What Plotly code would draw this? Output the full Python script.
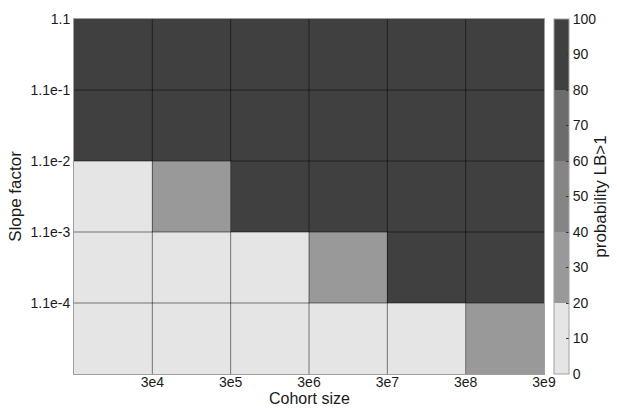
import plotly.graph_objects as go

# Cohort sizes along the columns, slope factors at the row boundaries
cohort_labels = ["3e4", "3e5", "3e6", "3e7", "3e8", "3e9"]
slope_labels = ["1.1", "1.1e-1", "1.1e-2", "1.1e-3", "1.1e-4"]  # top to bottom

# Probability (%) that the lower bound exceeds 1, rows listed top to bottom
prob_row1 = [100, 100, 100, 100, 100, 100]
prob_row2 = [100, 100, 100, 100, 100, 100]
prob_row3 = [0, 30, 100, 100, 100, 100]
prob_row4 = [0, 0, 0, 30, 100, 100]
prob_row5 = [0, 0, 0, 0, 0, 30]

rows_top_down = [prob_row1, prob_row2, prob_row3, prob_row4, prob_row5]
z = rows_top_down[::-1]  # heatmap row 0 sits at the bottom

n_cols = len(cohort_labels)
n_rows = len(rows_top_down)

# Five discrete grey bands over 0..100
band_colors = ["#e5e5e5", "#999999", "#858585", "#6c6c6c", "#404040"]
colorscale = []
for i, c in enumerate(band_colors):
    colorscale.append([i / len(band_colors), c])
    colorscale.append([(i + 1) / len(band_colors), c])

font_family = "Liberation Sans, Arial, sans-serif"
text_color = "#1a1a1a"

fig = go.Figure(
    go.Heatmap(
        z=z,
        x=list(range(n_cols)),
        y=list(range(n_rows)),
        zmin=0,
        zmax=100,
        colorscale=colorscale,
        hoverinfo="skip",
        colorbar=dict(
            x=1.0213,
            xanchor="left",
            xpad=0,
            y=0.5,
            yanchor="middle",
            ypad=0,
            len=1,
            lenmode="fraction",
            thickness=15,
            outlinecolor="#a0a0a0",
            outlinewidth=1,
            tickmode="array",
            tickvals=list(range(0, 101, 10)),
            ticks="inside",
            ticklen=3,
            tickcolor="#333333",
            tickfont=dict(size=14, color=text_color, family=font_family),
            title=dict(
                text="probability LB>1",
                side="right",
                font=dict(size=17, color=text_color, family=font_family),
            ),
        ),
    )
)

# Cell boundary lines
grid_color = "rgba(0,0,0,0.5)"
for i in range(1, n_cols):
    fig.add_shape(type="line", xref="x", yref="y",
                  x0=i - 0.5, x1=i - 0.5, y0=-0.5, y1=n_rows - 0.5,
                  line=dict(color=grid_color, width=1))
for j in range(1, n_rows):
    fig.add_shape(type="line", xref="x", yref="y",
                  x0=-0.5, x1=n_cols - 0.5, y0=j - 0.5, y1=j - 0.5,
                  line=dict(color=grid_color, width=1))

# x-axis title placed just under the tick labels
fig.add_annotation(
    text="Cohort size",
    xref="paper", yref="paper",
    x=0.5, y=-0.068,
    xanchor="center", yanchor="middle",
    showarrow=False,
    borderpad=0,
    font=dict(size=16, color=text_color, family=font_family),
)

fig.update_layout(
    width=617,
    height=409,
    margin=dict(l=74, r=73, t=19, b=35, autoexpand=False),
    paper_bgcolor="white",
    plot_bgcolor="white",
    font=dict(family=font_family, size=14, color=text_color),
    xaxis=dict(
        range=[-0.5, n_cols - 0.5],
        tickmode="array",
        tickvals=[i + 0.5 for i in range(n_cols)],
        ticktext=cohort_labels,
        showgrid=False,
        zeroline=False,
        showline=True,
        linecolor="#a0a0a0",
        linewidth=1,
        mirror=True,
        ticks="",
        ticklabelstandoff=-5,
        tickfont=dict(size=14),
    ),
    yaxis=dict(
        range=[-0.5, n_rows - 0.5],
        tickmode="array",
        tickvals=[j + 0.5 for j in range(n_rows)],
        ticktext=slope_labels[::-1],
        showgrid=False,
        zeroline=False,
        showline=True,
        linecolor="#a0a0a0",
        linewidth=1,
        mirror=True,
        ticks="",
        tickfont=dict(size=14),
        title=dict(text="Slope factor", font=dict(size=17), standoff=4),
    ),
)

fig.write_html("out.html")
